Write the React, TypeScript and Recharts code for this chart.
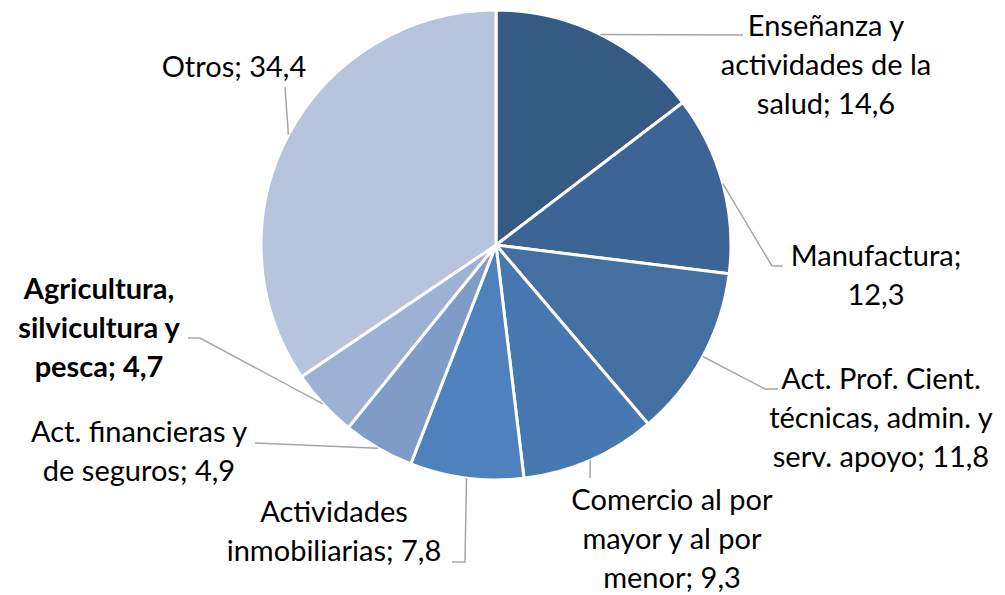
import { Cell, Pie, PieChart } from 'recharts'

const sectors = [
  'Enseñanza y actividades de la salud',
  'Manufactura',
  'Act. Prof. Cient. técnicas, admin. y serv. apoyo',
  'Comercio al por mayor y al por menor',
  'Actividades inmobiliarias',
  'Act. financieras y de seguros',
  'Agricultura, silvicultura y pesca',
  'Otros',
]
const shares = [14.6, 12.3, 11.8, 9.3, 7.8, 4.9, 4.7, 34.4]
// label text as wrapped in the original; the value is appended to the last line
const labelLines = [
  ['Enseñanza y', 'actividades de la', 'salud;'],
  ['Manufactura;', ''],
  ['Act. Prof. Cient.', 'técnicas, admin. y', 'serv. apoyo;'],
  ['Comercio al por', 'mayor y al por', 'menor;'],
  ['Actividades', 'inmobiliarias;'],
  ['Act. financieras y', 'de seguros;'],
  ['Agricultura,', 'silvicultura y', 'pesca;'],
  ['Otros;'],
]
const highlighted = 'Agricultura, silvicultura y pesca'

const COLORS = ['#355a84', '#3c6595', '#4470a1', '#4878b0', '#4f81bd', '#7f9cc8', '#9db1d4', '#b6c4de']

// manual label placement, relative to the pie centre: text centre + leader points
const LABEL_POS: [number, number][] = [
  [330, -182], [380, 28], [385, 171], [176, 292],
  [-162, 284], [-357, 204], [-397, 81], [-262, -180],
]
const LEADERS: [number, number][][] = [
  [[247, -210]],
  [[276, 21], [287, 21]],
  [[269, 144], [282, 144]],
  [[94, 233]],
  [[-31, 317], [-44, 317]],
  [[-241, 198]],
  [[-296, 93], [-308, 93]],
  [[-211, -158]],
]

const LINE_H = 39
const RAD = Math.PI / 180

const data = sectors.map((name, i) => ({ name, value: shares[i] }))
const fmt = (v: number) => v.toFixed(1).replace('.', ',')

function renderLabel(props: any) {
  const { cx, cy, midAngle, outerRadius, index, value, name } = props
  const sx = cx + outerRadius * Math.cos(-midAngle * RAD)
  const sy = cy + outerRadius * Math.sin(-midAngle * RAD)
  const pts = [[sx, sy], ...LEADERS[index].map(([dx, dy]) => [cx + dx, cy + dy])]
  const lines = labelLines[index].slice()
  const last = lines.length - 1
  lines[last] = (lines[last] ? lines[last] + ' ' : '') + fmt(value)
  const [tx, ty] = LABEL_POS[index]
  const top = cy + ty - ((lines.length - 1) * LINE_H) / 2
  const bold = name === highlighted
  return (
    <g key={`lbl-${index}`}>
      <polyline
        points={pts.map((p) => p.join(',')).join(' ')}
        fill="none"
        stroke="#a6a6a6"
        strokeWidth={1.5}
      />
      <text
        x={cx + tx}
        y={top}
        textAnchor="middle"
        dominantBaseline="central"
        fill="#000"
        fontSize={29}
        fontWeight={bold ? 700 : 400}
        fontFamily="Lato, 'Liberation Sans', sans-serif"
      >
        {lines.map((l, j) => (
          <tspan key={j} x={cx + tx} dy={j === 0 ? 0 : LINE_H}>
            {l}
          </tspan>
        ))}
      </text>
    </g>
  )
}

export default function App() {
  return (
    <div style={{ width: 1005, height: 595, background: '#fff' }}>
      <style>{'body{margin:0}'}</style>
      <PieChart width={1005} height={595} margin={{ top: 0, right: 0, bottom: 0, left: 0 }}>
        <Pie
          data={data}
          dataKey="value"
          nameKey="name"
          cx={496}
          cy={245}
          outerRadius={235}
          startAngle={90}
          endAngle={-270}
          stroke="#fff"
          strokeWidth={3}
          label={renderLabel}
          labelLine={false}
          isAnimationActive={false}
        >
          {data.map((d, i) => (
            <Cell key={d.name} fill={COLORS[i]} />
          ))}
        </Pie>
      </PieChart>
    </div>
  )
}
